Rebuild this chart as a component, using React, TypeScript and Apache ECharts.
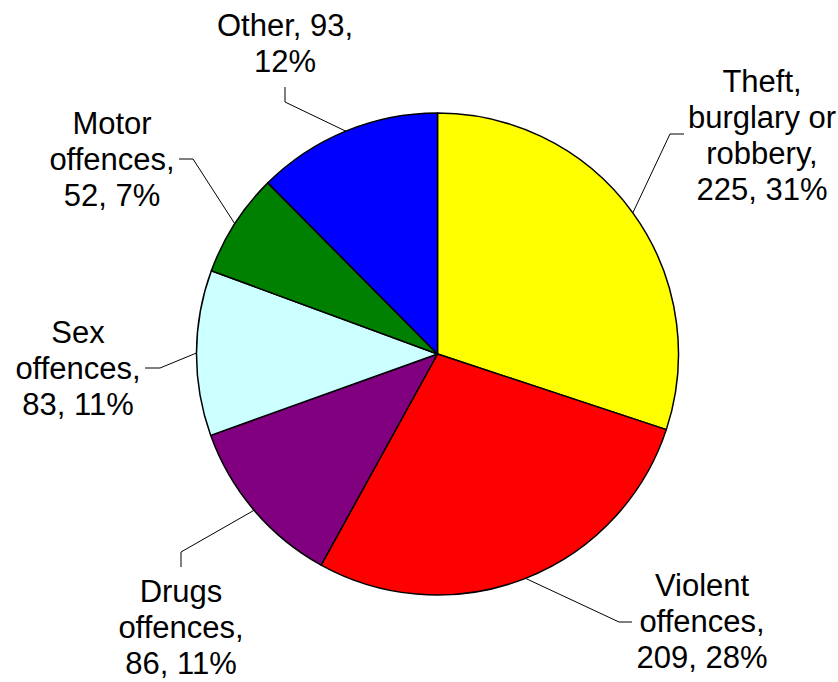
import React, { useEffect, useRef } from "react";
import * as echarts from "echarts";

const categories = [
  "Theft, burglary or robbery",
  "Violent offences",
  "Drugs offences",
  "Sex offences",
  "Motor offences",
  "Other",
];
const values = [225, 209, 86, 83, 52, 93];
const percentLabels = ["31%", "28%", "11%", "11%", "7%", "12%"];
const wrappedNames = [
  "Theft,\nburglary or\nrobbery,",
  "Violent\noffences,",
  "Drugs\noffences,",
  "Sex\noffences,",
  "Motor\noffences,",
  "Other,",
];
const colors = ["#FFFF00", "#FF0000", "#800080", "#CCFFFF", "#008000", "#0000FF"];

// label placement: text center, leader elbow, leader end
const labelPlacement = [
  { cx: 762, cy: 135, elbow: [670, 134], end: [684, 134] },
  { cx: 702, cy: 621, elbow: [619, 622], end: [632, 622] },
  { cx: 181, cy: 627, elbow: [181, 552], end: [181, 567] },
  { cx: 78, cy: 368, elbow: [160, 368], end: [145, 368] },
  { cx: 112, cy: 159, elbow: [193, 159], end: [179, 159] },
  { cx: 285, cy: 43, elbow: [285, 102], end: [285, 87] },
];

const CENTER: [number, number] = [437.5, 354];
const RADIUS = 241;

export default function App() {
  const ref = useRef<HTMLDivElement>(null);
  useEffect(() => {
    if (!ref.current) return;
    const chart = echarts.init(ref.current, null, { renderer: "svg" });
    const total = values.reduce((a, b) => a + b, 0);
    chart.setOption({
      animation: false,
      backgroundColor: "#ffffff",
      series: [
        {
          type: "pie",
          center: CENTER,
          radius: RADIUS,
          startAngle: 90,
          clockwise: true,
          data: categories.map((name, i) => ({
            name,
            value: values[i],
            itemStyle: { color: colors[i] },
          })),
          itemStyle: { borderColor: "#000000", borderWidth: 1.5 },
          label: {
            show: true,
            position: "outside",
            color: "#000000",
            fontFamily: "Liberation Sans, Arial, sans-serif",
            fontSize: 31,
            lineHeight: 36,
            align: "center",
            formatter: (p: any) => {
              const i = p.dataIndex;
              if (i === 5) return `${wrappedNames[i]} ${values[i]},\n${percentLabels[i]}`;
              return `${wrappedNames[i]}\n${values[i]}, ${percentLabels[i]}`;
            },
          },
          labelLine: {
            show: true,
            length: 10,
            length2: 10,
            smooth: false,
            lineStyle: { color: "#000000", width: 1 },
          },
          labelLayout: (params: any) => {
            const i = params.dataIndex;
            const pl = labelPlacement[i];
            let start = params.labelLinePoints && params.labelLinePoints[0];
            if (!start) {
              let acc = 0;
              for (let k = 0; k < i; k++) acc += values[k];
              const mid = ((acc + values[i] / 2) / total) * Math.PI * 2;
              start = [CENTER[0] + RADIUS * Math.sin(mid), CENTER[1] - RADIUS * Math.cos(mid)];
            }
            return {
              x: pl.cx,
              y: pl.cy,
              align: "center",
              verticalAlign: "middle",
              labelLinePoints: [start, pl.elbow, pl.end],
            };
          },
        },
      ],
    });
    return () => chart.dispose();
  }, []);
  return (
    <div
      ref={ref}
      style={{ position: "fixed", left: 0, top: 0, width: 838, height: 682 }}
    />
  );
}
